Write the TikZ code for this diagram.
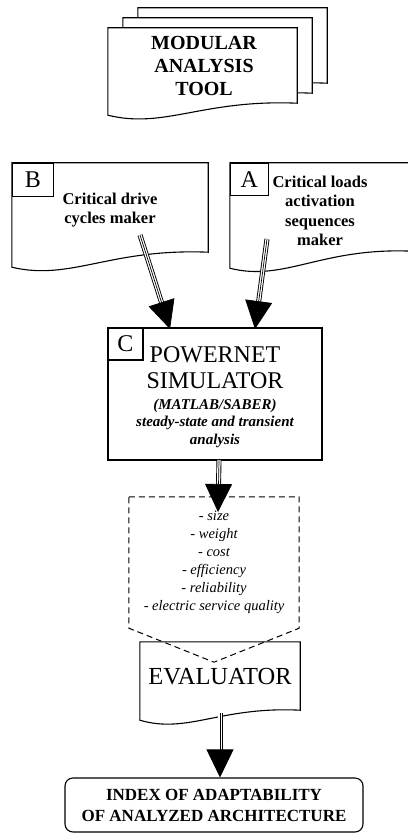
\documentclass[tikz,border=0pt]{standalone}
\usepackage{fontspec}
\setmainfont{Liberation Serif}
\usetikzlibrary{calc,arrows.meta,positioning}

\tikzset{
	box/.style={draw, line width=1.1pt},
	sheet/.style={inner sep=0pt},
	tag/.style={draw, line width=1.1pt, inner sep=0pt, font=\fontsize{24}{24}\selectfont},
	maker/.style={align=center, inner sep=0pt, font=\fontsize{16.5}{19.5}\selectfont\bfseries},
	fence/.style={line width=1pt, dash pattern=on 6pt off 4pt},
	feed/.style={line width=0.9pt, double, double distance=3.2pt, shorten >=25pt},
	feedtip/.style={line width=0.7pt, -{Triangle[width=27pt,length=28pt]}},
}

% outline of a document: #1 options, #2 empty node, #3 rise of the right end
\newcommand{\docdraw}[3]{%
	\draw[#1] (#2.north west) -- (#2.north east) -- ([yshift=#3pt]#2.south east)
		.. controls ($(#2.south west)!0.5!(#2.south east)+(0,-#3-4)$)
		and ($(#2.south west)!0.3!(#2.south east)+(0,14)$) .. (#2.south west) -- cycle;}

% three line arrow with a big head
\newcommand{\feedarrow}[2]{%
	\draw[feed] (#1) -- (#2);
	\draw[feedtip] (#1) -- (#2);}

\begin{document}
\begin{tikzpicture}[x=1pt, y=-1pt]
	\useasboundingbox (0,0) rectangle (407,834);

	% stacked sheets of the tool
	\node[sheet, minimum width=189pt, minimum height=87pt] (back) at (232.5,51.5) {};
	\node[sheet, minimum width=189pt, minimum height=87pt] (middle) at (217.5,61.5) {};
	\node[sheet, minimum width=189pt, minimum height=87pt] (front) at (202.5,71.5) {};
	\docdraw{box, fill=white}{back}{12}
	\docdraw{box, fill=white}{middle}{12}
	\docdraw{box, fill=white}{front}{12}
	\node[align=center, font=\fontsize{20}{23}\selectfont\bfseries] (tool) at (204,66) {MODULAR\\ANALYSIS\\TOOL};

	% the two makers
	\node[sheet, minimum width=196pt, minimum height=104pt] (bdoc) at (110,215) {};
	\node[sheet, minimum width=182pt, minimum height=105pt] (adoc) at (321,215.5) {};
	\docdraw{box}{bdoc}{15}
	\docdraw{box}{adoc}{17}
	\node[tag, minimum width=41pt, minimum height=33pt, anchor=north west] (btag) at (bdoc.north west) {B};
	\node[tag, minimum width=38pt, minimum height=32pt, anchor=north west] (atag) at (adoc.north west) {A};
	\node[maker] (btext) at (110,210) {Critical drive\\cycles maker};
	\node[maker] (atext) at (320,211) {Critical loads\\activation\\sequences\\maker};

	% simulator
	\node[box, minimum width=214pt, minimum height=132pt] (sim) at (215,394) {};
	\node[tag, minimum width=35pt, minimum height=32pt, anchor=north west] (ctag) at (sim.north west) {C};
	\node[align=center, font=\fontsize{24}{26}\selectfont] (simtitle) at (215,368) {POWERNET\\SIMULATOR};
	\node[align=center, font=\fontsize{15}{17.5}\selectfont\bfseries\itshape] (simnote) at (215,423) {(MATLAB/SABER)\\steady-state and transient\\analysis};

	% criteria
	\node[inner sep=0pt, minimum width=170pt, minimum height=131pt, align=center, font=\fontsize{14.5}{18}\selectfont\itshape] (crit) at (214,562.5) {- size\\- weight\\- cost\\- efficiency\\- reliability\\- electric service quality};
	\draw[fence] (crit.north west) -- (crit.north east) -- (crit.south east) -- ($(crit.south)+(0,34)$) -- (crit.south west) -- cycle;

	% evaluator
	\node[sheet, minimum width=160pt, minimum height=78pt] (evaldoc) at (220,681) {};
	\docdraw{box}{evaldoc}{10}
	\node[font=\fontsize{24.5}{24.5}\selectfont] (evaltext) at (220,677) {EVALUATOR};

	% result
	\node[box, rounded corners=8pt, minimum width=298pt, minimum height=54pt, align=center, font=\fontsize{17}{21}\selectfont\bfseries] (index) at (214,805) {INDEX OF ADAPTABILITY\\OF ANALYZED ARCHITECTURE};

	% arrows
	\coordinate (bout) at (140,235);
	\coordinate (bin) at (170,329);
	\coordinate (aout) at (267,239);
	\coordinate (ain) at (255,329);
	\coordinate (simout) at (219,460);
	\coordinate (critin) at (218,512);
	\coordinate (evalout) at (220,713);
	\coordinate (indexin) at ($(index.north)+(6,0)$);
	\feedarrow{bout}{bin}
	\feedarrow{aout}{ain}
	\feedarrow{simout}{critin}
	\feedarrow{evalout}{indexin}
\end{tikzpicture}
\end{document}
